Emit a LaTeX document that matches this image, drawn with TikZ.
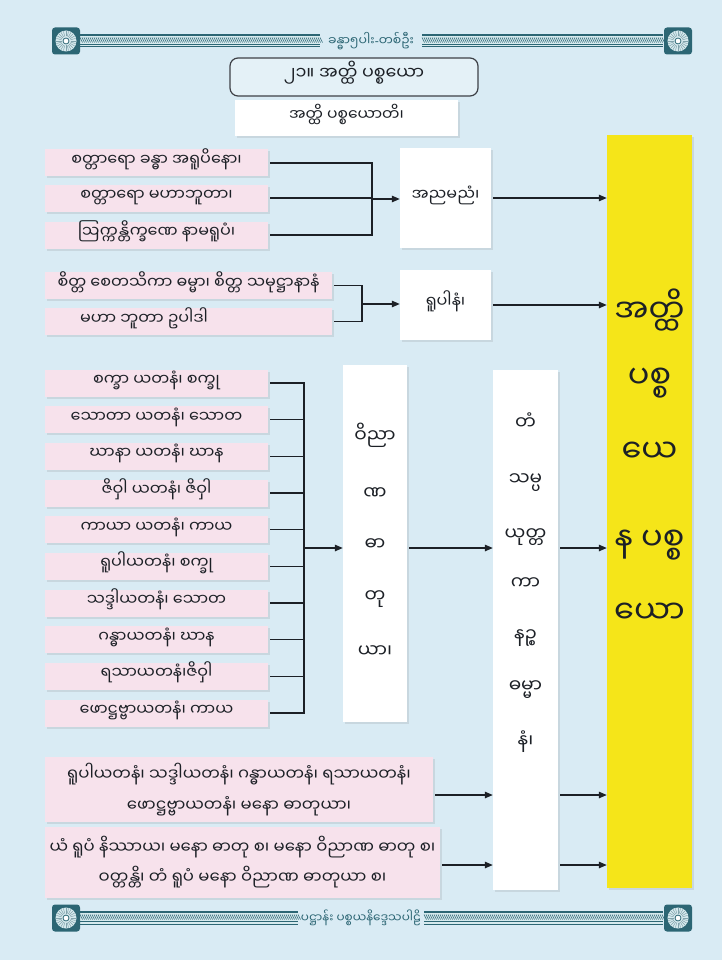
\documentclass[tikz,border=0pt]{standalone}
\usepackage{fontspec}
\newfontfamily\my[Script=Myanmar]{Noto Sans Myanmar UI}
\newfontfamily\lat{Noto Sans}
\usetikzlibrary{arrows.meta,shadows}
\definecolor{bg}{RGB}{217,235,244}
\definecolor{titlef}{RGB}{228,241,247}
\definecolor{pinkf}{RGB}{247,226,236}
\definecolor{ylw}{RGB}{245,229,25}
\definecolor{ornc}{RGB}{44,102,116}
\definecolor{ornl}{RGB}{214,234,238}
\definecolor{ink}{RGB}{28,32,38}
\newcommand\ornband[3]{%
  \fill[ornl] (#1,#3-6) rectangle (#2,#3+6);
  \draw[ornc,line width=1.3pt] (#1,#3-6) -- (#2,#3-6);
  \draw[ornc,line width=1pt] (#1,#3+3.5) -- (#2,#3+3.5);
  \draw[ornc,line width=1pt] (#1,#3+6) -- (#2,#3+6);
  \foreach \xx in {#1,...,#2}{\ifodd\xx\else\draw[ornc,line width=.6pt] (\xx,#3-3.5) -- (\xx+2.5,#3+1.5);\fi}
}
\tikzset{
  medal/.pic={
    \fill[ornc, rounded corners=3pt] (-14,-13.5) rectangle (14,13.5);
    \fill[ornl] (0,0) circle (10.5);
    \foreach \a in {0,15,...,345} \draw[ornc!60,line width=.5pt] (\a:4.5) -- (\a:10);
    \draw[ornc,line width=.8pt,fill=white] (0,0) circle (3);
  },
  shad/.style={drop shadow={opacity=.18,shadow xshift=1.5pt,shadow yshift=-2pt}},
  pinkbox/.style={fill=pinkf, inner sep=0pt, minimum height=27pt, text=ink,
    font=\my\fontsize{16}{19}\selectfont, text height=.6em, text depth=.1em, shad},
  wbox/.style={fill=white, inner sep=0pt, text=ink, font=\my\fontsize{16}{19}\selectfont,
    text height=.6em, text depth=.1em, shad},
  vtxt/.style={text=ink, inner sep=0pt, text height=.55em, text depth=0pt},
  ln/.style={draw=ink, line width=1.3pt},
  arr/.style={ln, -{Triangle[length=8pt,width=6.5pt]}},
}
\begin{document}
\begin{tikzpicture}[x=1pt,y=-1pt]
\fill[bg] (0,0) rectangle (722,960);
\useasboundingbox (0,0) rectangle (722,960);

% top ornament
\ornband{80}{320}{41}
\ornband{422}{663}{41}
\pic at (66,41) {medal};
\pic at (678,41) {medal};
\node[text=ornc, font=\my\fontsize{12.5}{14}\selectfont, inner sep=0pt] (toptxt) at (371,41) {ခန္ဓာ၅ပါး{\lat -}တစ်ဦး};

% bottom ornament
\ornband{80}{298}{918}
\ornband{424}{663}{918}
\pic at (66,918) {medal};
\pic at (678,918) {medal};
\node[text=ornc, font=\my\fontsize{12}{14}\selectfont, inner sep=0pt] (bottxt) at (361,918) {ပဋ္ဌာန်း ပစ္စယနိဒ္ဒေသပါဠိ};

% title
\node[draw=ink!85, line width=1.2pt, fill=titlef, rounded corners=8pt, minimum width=248pt, minimum height=38pt,
  inner sep=0pt, text=ink, font=\my\fontsize{17.5}{20}\selectfont, text height=.6em, text depth=.1em] (title) at (354,77) {၂၁။ အတ္ထိ ပစ္စယော};
\node[wbox, minimum width=223pt, minimum height=36pt, font=\my\fontsize{15.5}{18}\selectfont] (sub) at (346.5,118) {အတ္ထိ ပစ္စယောတိ၊};

% yellow box
\node[fill=ylw, minimum width=85pt, minimum height=753pt, inner sep=0pt, shad] (Y) at (649.5,511.5) {};
\foreach \t/\yy [count=\k] in {အတ္ထိ/320, ပစ္စ/386, ယေ/460, န ပစ္စ/548, ယော/621}
  \node[vtxt, font=\my\fontsize{32}{36}\selectfont] (y\k) at (649.5,\yy) {\t};

% group 1
\node[pinkbox, minimum width=223pt] (p1) at (156.5,163) {စတ္တာရော ခန္ဓာ အရူပိနော၊};
\node[pinkbox, minimum width=223pt] (p2) at (156.5,198) {စတ္တာရော မဟာဘူတာ၊};
\node[pinkbox, minimum width=223pt] (p3) at (156.5,235) {ဩက္ကန္တိက္ခဏေ နာမရူပံ၊};
\node[wbox, minimum width=91pt, minimum height=100pt] (A) at (445.5,198) {အညမညံ၊};
\coordinate (j1) at (372,199);
\draw[ln, shorten <=2pt, shorten >=2pt] (p1.east) -- (p1.east -| j1) -- (p3.east -| j1) -- (p3.east);
\draw[ln, shorten <=2pt] (p2.east) -- (p2.east -| j1);
\draw[arr] (j1) -- (A.west |- j1);
\draw[arr, shorten <=2pt] (A.east) -- (Y.west |- A.east);

% group 2
\node[pinkbox, minimum width=287pt] (q1) at (188.5,285.5) {စိတ္တ စေတသိကာ ဓမ္မာ၊ စိတ္တ သမုဋ္ဌာနာနံ};
\node[pinkbox, minimum width=287pt] (q2) at (188.5,321.5) {\makebox[287pt][l]{\hspace{35pt}မဟာ ဘူတာ ဥပါဒါ}};
\node[wbox, minimum width=91pt, minimum height=70pt] (R) at (445.5,305) {ရူပါနံ၊};
\coordinate (j2) at (362,304);
\draw[ln, shorten <=2pt, shorten >=2pt] (q1.east) -- (q1.east -| j2) -- (q2.east -| j2) -- (q2.east);
\draw[arr] (j2) -- (R.west |- j2);
\draw[arr, shorten <=2pt] (R.east) -- (Y.west |- R.east);

% group 3
\foreach \t [count=\i] in {စက္ခာ ယတနံ၊ စက္ခု, သောတာ ယတနံ၊ သောတ, ဃာနာ ယတနံ၊ ဃာန, ဇိဝှါ ယတနံ၊ ဇိဝှါ,
  ကာယာ ယတနံ၊ ကာယ, ရူပါယတနံ၊ စက္ခု, သဒ္ဒါယတနံ၊ သောတ, ဂန္ဓာယတနံ၊ ဃာန, ရသာယတနံ၊ဇိဝှါ, ဖောဋ္ဌဗ္ဗာယတနံ၊ ကာယ}
  \node[pinkbox, minimum width=223pt] (s\i) at (156.5,{383+36.67*(\i-1)}) {\t};
\node[wbox, minimum width=64pt, minimum height=357pt] (W) at (375,543.5) {};
\foreach \t/\yy [count=\k] in {ဝိညာ/440, ဏ/497, ဓာ/548, တု/600, ယာ၊/655}
  \node[vtxt, font=\my\fontsize{18.5}{21}\selectfont] (w\k) at (375,\yy) {\t};
\coordinate (j3) at (304,548);
\draw[ln, shorten <=2pt, shorten >=2pt] (s1.east) -- (s1.east -| j3) -- (s10.east -| j3) -- (s10.east);
\foreach \i in {2,...,9} \draw[ln, shorten <=2pt] (s\i.east) -- (s\i.east -| j3);
\draw[arr] (j3) -- (W.west |- j3);

% middle box
\node[wbox, minimum width=65pt, minimum height=520pt] (M) at (525.5,630) {};
\foreach \t/\yy [count=\k] in {တံ/427, သမ္ပ/483, ယုတ္တ/538, ကာ/587, နဉ္စ/639, ဓမ္မာ/690, နံ၊/745}
  \node[vtxt, font=\my\fontsize{18.5}{21}\selectfont] (m\k) at (525.5,\yy) {\t};
\draw[arr, shorten <=2pt] (W.east |- j3) -- (M.west |- j3);
\draw[arr, shorten <=2pt] (M.east |- j3) -- (Y.west |- j3);

% bottom boxes
\node[pinkbox, minimum width=388pt, minimum height=65pt, align=center, text height=, text depth=,
  font=\my\fontsize{16.5}{31}\selectfont] (BA) at (239,789.5)
  {ရူပါယတနံ၊ သဒ္ဒါယတနံ၊ ဂန္ဓာယတနံ၊ ရသာယတနံ၊\\ဖောဋ္ဌဗ္ဗာယတနံ၊ မနော ဓာတုယာ၊};
\node[pinkbox, minimum width=395pt, minimum height=71pt, align=center, text height=, text depth=,
  font=\my\fontsize{16.5}{30}\selectfont] (BB) at (242.5,862.5)
  {ယံ ရူပံ နိဿာယ၊ မနော ဓာတု စ၊ မနော ဝိညာဏ ဓာတု စ၊\\ဝတ္တန္တိ၊ တံ ရူပံ မနော ဝိညာဏ ဓာတုယာ စ၊};
\coordinate (ya) at (0,795);
\coordinate (yb) at (0,865);
\draw[arr, shorten <=2pt] (BA.east |- ya) -- (M.west |- ya);
\draw[arr, shorten <=2pt] (BB.east |- yb) -- (M.west |- yb);
\draw[arr, shorten <=2pt] (M.east |- ya) -- (Y.west |- ya);
\draw[arr, shorten <=2pt] (M.east |- yb) -- (Y.west |- yb);
\end{tikzpicture}
\end{document}
